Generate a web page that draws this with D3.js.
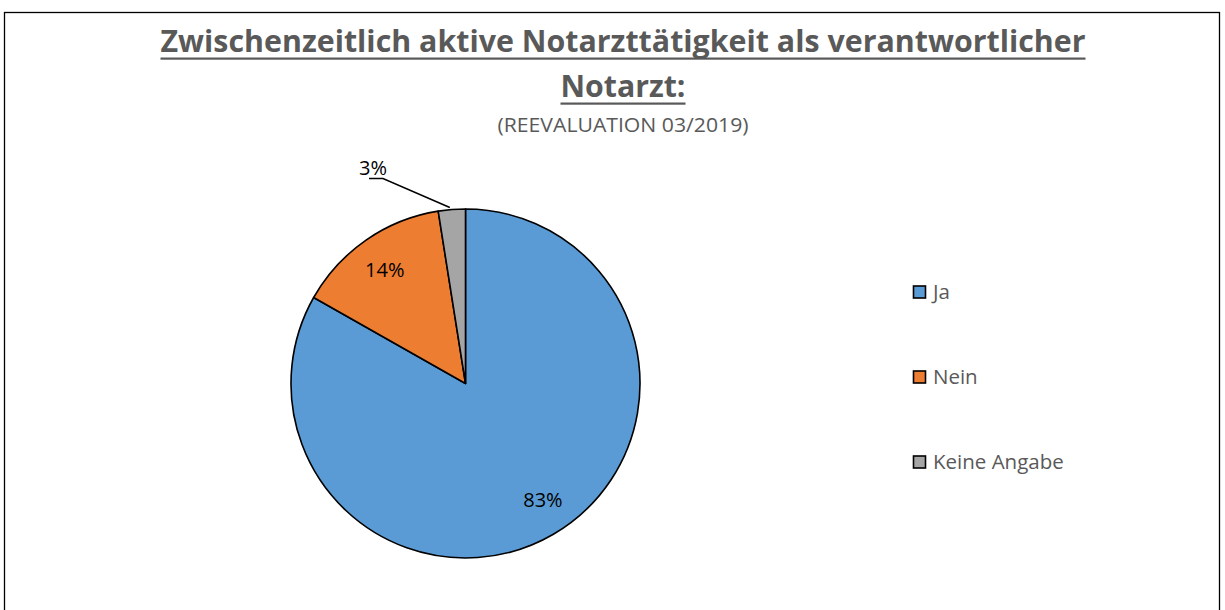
<!DOCTYPE html>
<html>
<head>
<meta charset="utf-8">
<script src="https://cdn.jsdelivr.net/npm/d3@7"></script>
<style>
  body { margin: 0; background: #fff; }
  svg { display: block; }
</style>
</head>
<body>
<svg id="chart" width="1225" height="610"></svg>
<script>

// Chart data
const categories = ["Ja", "Nein", "Keine Angabe"];
const values = [83.2, 14.3, 2.5];
const labels = ["83%", "14%", "3%"];
const colors = ["#5B9BD5", "#ED7D31", "#A5A5A5"];

const titleLines = ["Zwischenzeitlich aktive Notarzttätigkeit als verantwortlicher", "Notarzt:"];
const subtitle = "(REEVALUATION 03/2019)";

const svg = d3.select("#chart");
const font = "'Open Sans', 'Liberation Sans', sans-serif";

// Outer frame (bottom runs off the picture)
svg.append("rect")
    .attr("x", 4.5).attr("y", 12.5)
    .attr("width", 1215).attr("height", 640)
    .attr("fill", "none")
    .attr("stroke", "#000")
    .attr("stroke-width", 1.3);

// Title
const titleX = 623;
const titleGroup = svg.append("g")
    .attr("font-family", font)
    .attr("fill", "#595959")
    .attr("text-anchor", "middle");

const titleSpecs = [
    { y: 52, width: 925 },
    { y: 97, width: 125 }
];
titleLines.forEach((t, i) => {
    titleGroup.append("text")
        .attr("x", titleX)
        .attr("y", titleSpecs[i].y)
        .attr("font-size", 30)
        .attr("font-weight", "bold")
        .attr("textLength", titleSpecs[i].width)
        .attr("lengthAdjust", "spacingAndGlyphs")
        .text(t);
    // underline
    titleGroup.append("rect")
        .attr("x", titleX - titleSpecs[i].width / 2)
        .attr("y", titleSpecs[i].y + 5.5)
        .attr("width", titleSpecs[i].width)
        .attr("height", 2.2)
        .attr("fill", "#595959");
});

titleGroup.append("text")
    .attr("x", titleX)
    .attr("y", 132)
    .attr("font-size", 20)
    .attr("textLength", 251)
    .attr("lengthAdjust", "spacingAndGlyphs")
    .text(subtitle);

// Pie
const center = { x: 465.5, y: 383.5 };
const radius = 174.5;

const pie = d3.pie().sort(null).value(d => d);
const arcs = pie(values);

const arc = d3.arc().innerRadius(0).outerRadius(radius);
const labelArc = d3.arc().innerRadius(radius * 0.8).outerRadius(radius * 0.8);

const plot = svg.append("g")
    .attr("transform", `translate(${center.x},${center.y})`);

plot.selectAll("path.slice")
    .data(arcs)
    .join("path")
        .classed("slice", true)
        .attr("d", arc)
        .attr("fill", (d, i) => colors[i])
        .attr("stroke", "#000")
        .attr("stroke-width", 1.6)
        .attr("stroke-linejoin", "round");

// Inside labels for the two big slices
plot.selectAll("text.inlabel")
    .data(arcs.slice(0, 2))
    .join("text")
        .classed("inlabel", true)
        .attr("transform", d => {
            // Excel nudges the big label a little toward the bottom
            const a = (d.startAngle + d.endAngle) / 2 - (d.index === 0 ? 0.06 : 0.01);
            const r = radius * 0.8;
            return `translate(${r * Math.sin(a)},${-r * Math.cos(a)})`;
        })
        .attr("text-anchor", "middle")
        .attr("dy", "0.35em")
        .attr("font-family", font)
        .attr("font-size", 20)
        .attr("fill", "#000")
        .text((d, i) => labels[i]);

// Outside label with leader line for the small slice
const small = arcs[2];
const edgeArc = d3.arc().innerRadius(radius).outerRadius(radius);
const edgePt = edgeArc.centroid(small);
const labelPos = { x: 373 - center.x, y: 175 - center.y };

plot.append("polyline")
    .attr("points", [
        [edgePt[0] - 2, edgePt[1] - 2],
        [labelPos.x + 10, labelPos.y + 3.5],
        [labelPos.x - 4, labelPos.y + 3.5]
    ].map(p => p.join(",")).join(" "))
    .attr("fill", "none")
    .attr("stroke", "#000")
    .attr("stroke-width", 1.5);

plot.append("text")
    .attr("x", labelPos.x)
    .attr("y", labelPos.y)
    .attr("text-anchor", "middle")
    .attr("font-family", font)
    .attr("font-size", 20)
    .attr("fill", "#000")
    .text(labels[2]);

// Legend
const legendY = d3.scalePoint()
    .domain(categories)
    .range([292, 462]);

const legend = svg.append("g")
    .attr("font-family", font)
    .attr("font-size", 20.5);

const items = legend.selectAll("g.item")
    .data(categories)
    .join("g")
        .classed("item", true)
        .attr("transform", d => `translate(913.5,${legendY(d)})`);

items.append("rect")
    .attr("x", 0).attr("y", -6)
    .attr("width", 12).attr("height", 12)
    .attr("fill", (d, i) => colors[i])
    .attr("stroke", "#000")
    .attr("stroke-width", 1.6);

items.append("text")
    .attr("x", 19.5)
    .attr("y", 0)
    .attr("dy", "0.35em")
    .attr("fill", "#595959")
    .text(d => d);

</script>
</body>
</html>
